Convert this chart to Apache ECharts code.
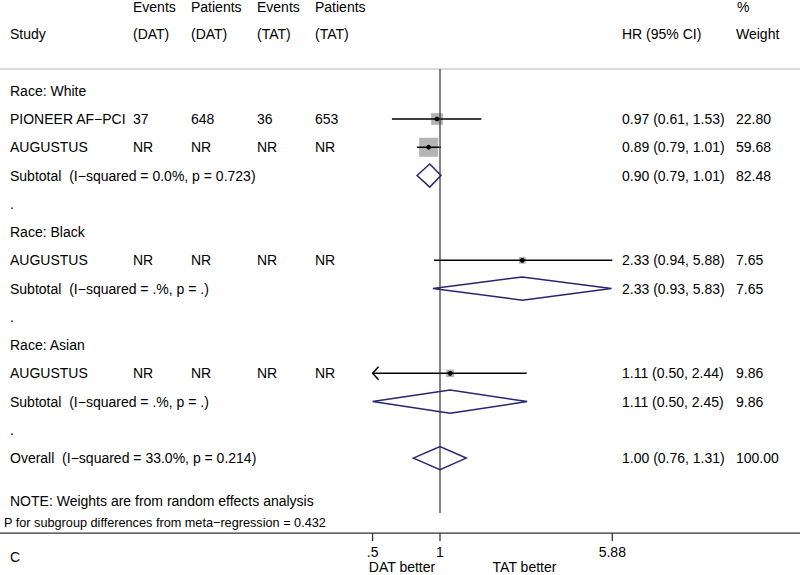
<!DOCTYPE html>
<html><head><meta charset="utf-8">
<script src="https://cdn.jsdelivr.net/npm/echarts@6/dist/echarts.min.js"></script>
<style>html,body{margin:0;padding:0;background:#fff}#c{width:800px;height:575px}</style>
</head><body><div id="c"></div>
<script>
// ---------------- data ----------------
const groupRows = [0, 5, 9];
const groupLabels = ['Race: White', 'Race: Black', 'Race: Asian'];
const dotRows = [4, 8, 12];

const studyRows = [1, 2, 6, 10];
const studyNames = ['PIONEER AF\u2212PCI', 'AUGUSTUS', 'AUGUSTUS', 'AUGUSTUS'];
const eventsDAT = ['37', 'NR', 'NR', 'NR'];
const patientsDAT = ['648', 'NR', 'NR', 'NR'];
const eventsTAT = ['36', 'NR', 'NR', 'NR'];
const patientsTAT = ['653', 'NR', 'NR', 'NR'];
const studyHR = [0.97, 0.89, 2.33, 1.11];
const studyLow = [0.61, 0.79, 0.94, 0.499];
const studyHigh = [1.53, 1.01, 5.88, 2.44];
const studyWeight = [22.80, 59.68, 7.65, 9.86];

const pooledRows = [3, 7, 11, 13];
const pooledLabels = [
  'Subtotal  (I\u2212squared = 0.0%, p = 0.723)',
  'Subtotal  (I\u2212squared = .%, p = .)',
  'Subtotal  (I\u2212squared = .%, p = .)',
  'Overall  (I\u2212squared = 33.0%, p = 0.214)'
];
const pooledHR = [0.90, 2.33, 1.11, 1.00];
const pooledLow = [0.79, 0.93, 0.50, 0.76];
const pooledHigh = [1.01, 5.83, 2.45, 1.31];
const pooledWeight = [82.48, 7.65, 9.86, 100.00];

const tickValues = [0.5, 1, 5.88];
const tickLabels = ['.5', '1', '5.88'];

// ---------------- layout ----------------
const K = 97.26;                       // px per ln unit
const XMIN = Math.exp(-440 / K), XMAX = Math.exp(360 / K);
const CLIP_LOW = 0.5;
const YMIN = -0.77, YMAX = 15.65, NULL_END = 14.94;
const FONT = '"Liberation Sans", Arial, Helvetica, sans-serif';
const NAVY = '#262673';
const SQ = '#b4b4b4';
const colX = { study: 10, evD: 133, ptD: 191, evT: 257, ptT: 315, hr: 622, w: 736 };
const AXIS_Y = 533;

const chart = echarts.init(document.getElementById('c'), null, { renderer: 'svg' });

const studyData = studyRows.map((r, i) => [r, studyHR[i], studyLow[i], studyHigh[i], studyWeight[i]]);
const pooledData = pooledRows.map((r, i) => [r, pooledHR[i], pooledLow[i], pooledHigh[i]]);

chart.setOption({
  animation: false,
  grid: { left: 0, right: 0, top: 69, bottom: 42 },
  xAxis: [
    { type: 'log', min: XMIN, max: XMAX, show: false },
    { type: 'log', min: XMIN, max: XMAX, position: 'top',
      axisLine: { show: true, onZero: false, lineStyle: { color: '#cfcfcf', width: 1.5 } },
      axisTick: { show: false }, axisLabel: { show: false }, splitLine: { show: false } }
  ],
  yAxis: { type: 'value', inverse: true, min: YMIN, max: YMAX, show: false, splitLine: { show: false } },
  series: [
    { // studies: square, CI, dot
      type: 'custom', xAxisIndex: 0, data: studyData, encode: { x: 1, y: 0 }, clip: false, z: 2,
      renderItem: function (params, api) {
        const row = api.value(0), est = api.value(1), lo = api.value(2), hi = api.value(3), w = api.value(4);
        const c = api.coord([est, row]);
        const side = 2.46 * Math.sqrt(w);
        const arrowLeft = lo < CLIP_LOW;
        const pL = api.coord([arrowLeft ? CLIP_LOW : lo, row]);
        const pR = api.coord([hi, row]);
        const children = [
          { type: 'rect', shape: { x: c[0] - side / 2, y: c[1] - side / 2, width: side, height: side },
            style: { fill: SQ } },
          { type: 'line', shape: { x1: pL[0], y1: pL[1], x2: pR[0], y2: pR[1] },
            style: { stroke: '#000', lineWidth: 1.5 } },
          { type: 'circle', shape: { cx: c[0], cy: c[1], r: 2.4 }, style: { fill: '#000' } }
        ];
        if (arrowLeft) {
          children.push({ type: 'polyline',
            shape: { points: [[pL[0] + 6, pL[1] - 6.5], [pL[0], pL[1]], [pL[0] + 6, pL[1] + 6.5]] },
            style: { stroke: '#000', lineWidth: 1.5, fill: null } });
        }
        return { type: 'group', children: children };
      }
    },
    { // pooled diamonds
      type: 'custom', xAxisIndex: 0, data: pooledData, encode: { x: 1, y: 0 }, clip: false, z: 3,
      renderItem: function (params, api) {
        const row = api.value(0), est = api.value(1), lo = api.value(2), hi = api.value(3);
        const h = 0.41;
        const a = api.coord([lo, row]), b = api.coord([est, row - h]), c = api.coord([hi, row]), d = api.coord([est, row + h]);
        return { type: 'polygon', shape: { points: [a, b, c, d] },
          style: { stroke: NAVY, lineWidth: 1.5, fill: null } };
      }
    },
    { // null line
      type: 'line', xAxisIndex: 0, data: [[1, YMIN], [1, NULL_END]], symbol: 'none', z: 4,
      lineStyle: { color: '#333', width: 1.2 }
    }
  ]
});

// ---------------- text table & axis ----------------
function rowY(r) { return chart.convertToPixel({ yAxisIndex: 0 }, r); }
function colXv(v) { return chart.convertToPixel({ xAxisIndex: 0 }, v); }
const els = [];
function T(str, x, y, size, align) {
  els.push({ type: 'text', x: x, y: y, silent: true, z: 50,
    style: { text: str, fontSize: size || 14, fontFamily: FONT, fill: '#000',
      textAlign: align || 'left', textVerticalAlign: 'middle', align: align || 'left', verticalAlign: 'middle' } });
}
// bottom axis line and ticks
els.push({ type: 'rect', silent: true, z: 50,
  shape: { x: 0, y: AXIS_Y - 0.6, width: 800, height: 1.3 }, style: { fill: '#333' } });
tickValues.forEach((v, i) => {
  const x = colXv(v);
  els.push({ type: 'rect', silent: true, z: 50,
    shape: { x: x - 0.65, y: AXIS_Y, width: 1.3, height: 8 }, style: { fill: '#333' } });
  T(tickLabels[i], x, AXIS_Y + 19, 14, 'center');
});
// header
T('Events', colX.evD, 6.5); T('Patients', colX.ptD, 6.5); T('Events', colX.evT, 6.5); T('Patients', colX.ptT, 6.5);
T('Study', colX.study, 34); T('(DAT)', colX.evD, 34); T('(DAT)', colX.ptD, 34); T('(TAT)', colX.evT, 34); T('(TAT)', colX.ptT, 34);
T('%', colX.w + 1, 6.5); T('HR (95% CI)', colX.hr, 34); T('Weight', colX.w, 34);
groupRows.forEach((r, i) => T(groupLabels[i], colX.study, rowY(r)));
dotRows.forEach(r => T('.', colX.study, rowY(r)));
const fmt = (e, l, h) => e.toFixed(2) + ' (' + l.toFixed(2) + ', ' + h.toFixed(2) + ')';
studyRows.forEach((r, i) => {
  const y = rowY(r);
  T(studyNames[i], colX.study, y);
  T(eventsDAT[i], colX.evD, y); T(patientsDAT[i], colX.ptD, y);
  T(eventsTAT[i], colX.evT, y); T(patientsTAT[i], colX.ptT, y);
  T(fmt(studyHR[i], studyLow[i], studyHigh[i]), colX.hr, y);
  T(studyWeight[i].toFixed(2), colX.w, y);
});
pooledRows.forEach((r, i) => {
  const y = rowY(r);
  T(pooledLabels[i], colX.study, y);
  T(fmt(pooledHR[i], pooledLow[i], pooledHigh[i]), colX.hr, y);
  T(pooledWeight[i].toFixed(2), colX.w, y);
});
T('NOTE: Weights are from random effects analysis', colX.study, rowY(14.5));
T('P for subgroup differences from meta\u2212regression = 0.432', 4, rowY(15.28), 12.7);
T('C', colX.study, 557);
T('DAT better', 402, 566.5, 14, 'center');
T('TAT better', 524.5, 566.5, 14, 'center');

chart.setOption({ graphic: { elements: els } });
</script>
</body></html>
